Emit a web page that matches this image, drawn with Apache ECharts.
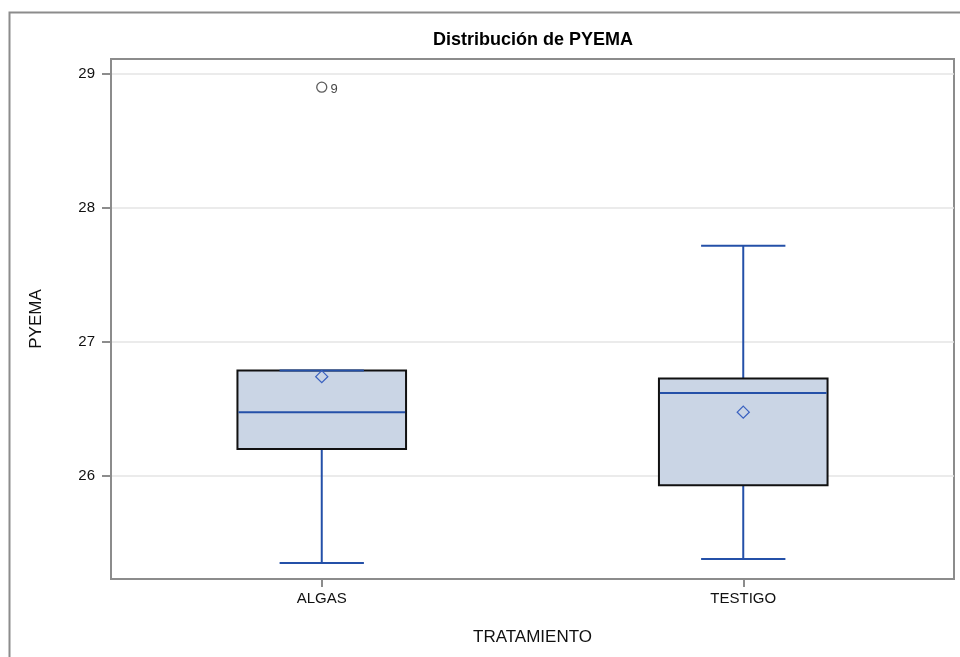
<!DOCTYPE html>
<html>
<head>
<meta charset="utf-8">
<script src="https://cdn.jsdelivr.net/npm/echarts@6/dist/echarts.min.js"></script>
<style>
	html, body { margin: 0; padding: 0; background: #fff; }
	#chart { width: 960px; height: 657px; }
</style>
</head>
<body>
<div id="chart"></div>
<script>
// values
var categories = ['ALGAS', 'TESTIGO'];
var whiskerLow = [25.35, 25.38];
var q1 = [26.20, 25.93];
var medians = [26.475, 26.617];
var q3 = [26.786, 26.726];
var whiskerHigh = [26.786, 27.716];
var means = [26.74, 26.475];
var outliers = [[0, 28.9, '9']];
var yTicks = [26, 27, 28, 29];

var lineBlue = '#2450a8';
var fillBlue = '#cad5e5';
var font = 'Liberation Sans, Arial, sans-serif';

var boxData = categories.map(function (c, i) {
	return [i, whiskerLow[i], q1[i], medians[i], q3[i], whiskerHigh[i], means[i]];
});

function renderBox(params, api) {
	var idx = api.value(0);
	var x = api.coord([idx, 0])[0];
	var band = api.size([1, 0])[0];
	var boxW = band * 0.4;
	var capW = band * 0.2;
	function y(v) { return api.coord([idx, api.value(v)])[1]; }
	var yLow = y(1), yQ1 = y(2), yMed = y(3), yQ3 = y(4), yHigh = y(5), yMean = y(6);
	var blue = { stroke: lineBlue, lineWidth: 2 };
	var d = 6;
	return {
		type: 'group',
		children: [
			{ type: 'line', shape: { x1: x, y1: yQ1, x2: x, y2: yLow }, style: blue },
			{ type: 'line', shape: { x1: x, y1: yQ3, x2: x, y2: yHigh }, style: blue },
			{
				type: 'rect',
				shape: { x: x - boxW / 2, y: yQ3, width: boxW, height: yQ1 - yQ3 },
				style: { fill: fillBlue, stroke: '#111', lineWidth: 2 }
			},
			{ type: 'line', shape: { x1: x - boxW / 2 + 1, y1: yMed, x2: x + boxW / 2 - 1, y2: yMed }, style: blue },
			{ type: 'line', shape: { x1: x - capW / 2, y1: yLow, x2: x + capW / 2, y2: yLow }, style: blue },
			{ type: 'line', shape: { x1: x - capW / 2, y1: yHigh, x2: x + capW / 2, y2: yHigh }, style: blue },
			{
				type: 'polygon',
				shape: { points: [[x, yMean - d], [x + d, yMean], [x, yMean + d], [x - d, yMean]] },
				style: { fill: 'none', stroke: '#3b62c0', lineWidth: 1.3 }
			}
		]
	};
}

var chart = echarts.init(document.getElementById('chart'));
chart.setOption({
	animation: false,
	backgroundColor: '#fff',
	title: {
		text: 'Distribución de PYEMA',
		left: 528,
		top: 26,
		textAlign: 'center',
		textStyle: { fontFamily: font, fontSize: 18, fontWeight: 'bold', color: '#000' }
	},
	graphic: [{
		type: 'rect',
		shape: { x: 9.5, y: 12.5, width: 1000, height: 700 },
		style: { fill: 'none', stroke: '#8c8c8c', lineWidth: 2 },
		silent: true
	}],
	grid: {
		left: 111,
		right: 6,
		top: 59,
		bottom: 78,
		show: true,
		borderColor: '#8c8c8c',
		borderWidth: 2,
		backgroundColor: 'transparent'
	},
	xAxis: {
		type: 'category',
		data: categories,
		boundaryGap: true,
		name: 'TRATAMIENTO',
		nameLocation: 'middle',
		nameGap: 50,
		nameTextStyle: { fontFamily: font, fontSize: 17, color: '#111' },
		axisLine: { show: true, lineStyle: { color: '#8c8c8c', width: 2 } },
		axisTick: { show: true, alignWithLabel: true, length: 8, lineStyle: { color: '#8c8c8c', width: 2 } },
		axisLabel: { fontFamily: font, fontSize: 15, color: '#111', margin: 12 },
		splitLine: { show: false }
	},
	yAxis: {
		type: 'value',
		min: 25.23,
		max: 29.11,
		name: 'PYEMA',
		nameLocation: 'middle',
		nameGap: 66,
		nameTextStyle: { fontFamily: font, fontSize: 17, color: '#111' },
		axisLine: { show: true, lineStyle: { color: '#8c8c8c', width: 2 } },
		axisTick: { show: true, length: 9, customValues: yTicks, lineStyle: { color: '#8c8c8c', width: 2 } },
		axisLabel: { fontFamily: font, fontSize: 15, color: '#111', margin: 16, customValues: yTicks },
		splitLine: { show: true, lineStyle: { color: '#e4e4e4', width: 1.5 } }
	},
	series: [{
		type: 'custom',
		renderItem: renderBox,
		encode: { x: 0, y: [1, 2, 3, 4, 5, 6] },
		data: boxData,
		z: 3
	}, {
		type: 'scatter',
		symbol: 'circle',
		symbolSize: 10,
		itemStyle: { color: 'rgba(255,255,255,0)', borderColor: '#333', borderWidth: 1.3 },
		label: {
			show: true,
			position: 'right',
			distance: 3,
			offset: [0, 2],
			formatter: function (p) { return p.data[2]; },
			fontFamily: font,
			fontSize: 13,
			color: '#111'
		},
		data: outliers,
		z: 4
	}]
});
</script>
</body>
</html>
